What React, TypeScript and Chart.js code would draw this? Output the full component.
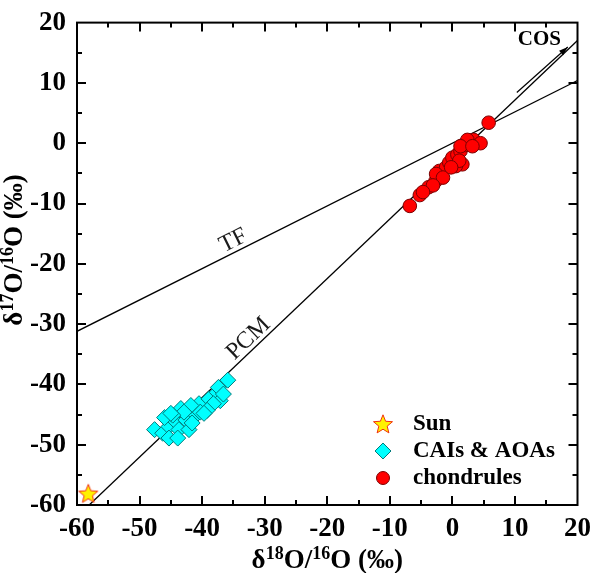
import React, { useEffect, useRef } from "react";
import { Chart, registerables } from "chart.js";
Chart.register(...registerables);

// ---- data ----
const xRange = [-60, 20];
const yRange = [-60, 20];
const majorStep = 10;
const minorStep = 5;

const sunX = [-58.2];
const sunY = [-58.1];

const caiX = [-35.9, -47.6, -46.3, -45.3, -43.4, -44.2, -42.6, -43.7, -42.1, -41.0, -40.5, -38.9, -37.6, -37.1, -38.2, -39.2, -40.3, -41.8, -42.9, -44.7, -37.4, -36.6, -45.3, -41.6, -39.7, -43.9, -46.0, -45.0];
const caiY = [-39.3, -47.5, -48.1, -47.0, -44.0, -46.2, -45.9, -47.5, -47.5, -45.1, -43.2, -42.4, -41.3, -42.7, -43.2, -44.3, -44.6, -43.5, -44.6, -45.1, -40.5, -41.6, -48.9, -46.4, -44.8, -48.9, -45.5, -44.8];

const chondX = [5.8, -6.8, -5.2, -3.8, -2.7, -2.1, -1.0, -0.5, 0.0, 0.8, 1.3, 2.1, 2.9, 3.4, 4.5, 1.6, 0.55, -2.6, -1.5, -3.1, -4.7, 2.4, 1.1, -0.2, 1.3, 3.2];
const chondY = [3.4, -10.4, -8.6, -7.3, -6.3, -4.6, -4.0, -3.2, -2.4, -1.9, -1.3, -0.3, 0.3, 0.55, 0.0, -3.5, -3.8, -5.1, -5.7, -7.0, -8.1, 0.55, -2.9, -4.0, -0.5, -0.5];

const tfLineX = [-60, 20];
const tfLineY = [-31.2, 10.4];
const pcmLineX = [-58.05, 20];
const pcmLineY = [-60, 17.04];
const cosArrowX = [10.3, 18.45];
const cosArrowY = [8.4, 15.95];

const legendLabels = ["Sun", "CAIs & AOAs", "chondrules"];
const lineLabels = ["TF", "PCM", "COS"];
const lineLabelX = [-35.0, -32.6, 13.9];
const lineLabelY = [-16.2, -32.4, 17.2];

const FONT = '"Liberation Serif", "Times New Roman", serif';

function pts(xs: number[], ys: number[]) {
  return xs.map((x, i) => ({ x, y: ys[i] }));
}

function starPath(ctx: CanvasRenderingContext2D, cx: number, cy: number, R: number, r: number) {
  ctx.beginPath();
  for (let i = 0; i < 10; i++) {
    const rad = i % 2 === 0 ? R : r;
    const a = -Math.PI / 2 + (i * Math.PI) / 5;
    const x = cx + rad * Math.cos(a);
    const y = cy + rad * Math.sin(a);
    if (i === 0) ctx.moveTo(x, y);
    else ctx.lineTo(x, y);
  }
  ctx.closePath();
}

function makeStar(): HTMLCanvasElement {
  const c = document.createElement("canvas");
  c.width = 22;
  c.height = 22;
  const g = c.getContext("2d")!;
  starPath(g, 11, 11.8, 10, 4.4);
  g.fillStyle = "#FFF200";
  g.fill();
  g.strokeStyle = "#F03010";
  g.lineWidth = 1;
  g.stroke();
  return c;
}

function drawRich(
  ctx: CanvasRenderingContext2D,
  parts: { t: string; sup?: boolean }[],
  cx: number,
  cy: number,
  rot: number
) {
  const big = `bold 27px ${FONT}`;
  const small = `bold 18px ${FONT}`;
  let total = 0;
  const widths = parts.map((p) => {
    ctx.font = p.sup ? small : big;
    const w = ctx.measureText(p.t).width;
    total += w;
    return w;
  });
  ctx.save();
  ctx.translate(cx, cy);
  ctx.rotate(rot);
  ctx.textAlign = "left";
  ctx.textBaseline = "alphabetic";
  ctx.fillStyle = "#000";
  let x = -total / 2;
  parts.forEach((p, i) => {
    ctx.font = p.sup ? small : big;
    ctx.fillText(p.t, x, p.sup ? 0 : 9);
    x += widths[i];
  });
  ctx.restore();
}

const decorPlugin = {
  id: "decor",
  afterDraw(chart: any) {
    const { ctx, chartArea: a, scales } = chart;
    const xs = scales.x;
    const ys = scales.y;
    ctx.save();
    ctx.strokeStyle = "#000";
    ctx.lineWidth = 2;
    ctx.strokeRect(a.left, a.top, a.right - a.left, a.bottom - a.top);
    ctx.beginPath();
    for (let v = xRange[0] + minorStep; v < xRange[1]; v += minorStep) {
      const px = Math.round(xs.getPixelForValue(v));
      const len = v % majorStep === 0 ? 9 : 5;
      ctx.moveTo(px, a.bottom);
      ctx.lineTo(px, a.bottom - len);
      ctx.moveTo(px, a.top);
      ctx.lineTo(px, a.top + len);
    }
    for (let v = yRange[0] + minorStep; v < yRange[1]; v += minorStep) {
      const py = Math.round(ys.getPixelForValue(v));
      const len = v % majorStep === 0 ? 9 : 5;
      ctx.moveTo(a.left, py);
      ctx.lineTo(a.left + len, py);
      ctx.moveTo(a.right, py);
      ctx.lineTo(a.right - len, py);
    }
    ctx.stroke();

    // COS arrow head
    const x1 = xs.getPixelForValue(cosArrowX[0]);
    const y1 = ys.getPixelForValue(cosArrowY[0]);
    const x2 = xs.getPixelForValue(cosArrowX[1]);
    const y2 = ys.getPixelForValue(cosArrowY[1]);
    const ang = Math.atan2(y2 - y1, x2 - x1);
    ctx.fillStyle = "#000";
    ctx.beginPath();
    ctx.moveTo(x2, y2);
    ctx.lineTo(x2 - 9 * Math.cos(ang) + 3 * Math.sin(ang), y2 - 9 * Math.sin(ang) - 3 * Math.cos(ang));
    ctx.lineTo(x2 - 9 * Math.cos(ang) - 3 * Math.sin(ang), y2 - 9 * Math.sin(ang) + 3 * Math.cos(ang));
    ctx.closePath();
    ctx.fill();

    // line labels
    const tfAng = Math.atan2(
      ys.getPixelForValue(tfLineY[1]) - ys.getPixelForValue(tfLineY[0]),
      xs.getPixelForValue(tfLineX[1]) - xs.getPixelForValue(tfLineX[0])
    );
    const pcmAng = Math.atan2(
      ys.getPixelForValue(pcmLineY[1]) - ys.getPixelForValue(pcmLineY[0]),
      xs.getPixelForValue(pcmLineX[1]) - xs.getPixelForValue(pcmLineX[0])
    );
    const angs = [tfAng, pcmAng, 0];
    lineLabels.forEach((t, i) => {
      ctx.save();
      ctx.translate(xs.getPixelForValue(lineLabelX[i]), ys.getPixelForValue(lineLabelY[i]));
      ctx.rotate(angs[i]);
      ctx.font = i === 2 ? `bold 21px ${FONT}` : `24px ${FONT}`;
      ctx.fillStyle = i === 2 ? "#000" : "#1a1a1a";
      ctx.textAlign = "center";
      ctx.textBaseline = "middle";
      ctx.fillText(t, 0, 0);
      ctx.restore();
    });

    // legend
    const rowsY = [424, 451, 478];
    const symX = 383;
    const textX = 413;
    rowsY.forEach((ry, i) => {
      if (i === 0) {
        starPath(ctx, symX, ry + 0.8, 10, 4.4);
        ctx.fillStyle = "#FFF200";
        ctx.fill();
        ctx.strokeStyle = "#F03010";
        ctx.lineWidth = 1;
        ctx.stroke();
      } else if (i === 1) {
        ctx.beginPath();
        ctx.moveTo(symX, ry - 8);
        ctx.lineTo(symX + 8, ry);
        ctx.lineTo(symX, ry + 8);
        ctx.lineTo(symX - 8, ry);
        ctx.closePath();
        ctx.fillStyle = "#00FFFF";
        ctx.fill();
        ctx.strokeStyle = "#007a7a";
        ctx.lineWidth = 1;
        ctx.stroke();
      } else {
        ctx.beginPath();
        ctx.arc(symX, ry, 6.5, 0, Math.PI * 2);
        ctx.fillStyle = "#FF0000";
        ctx.fill();
        ctx.strokeStyle = "#7a0000";
        ctx.lineWidth = 1;
        ctx.stroke();
      }
      ctx.font = `bold 23px ${FONT}`;
      ctx.fillStyle = "#000";
      ctx.textAlign = "left";
      ctx.textBaseline = "middle";
      ctx.fillText(legendLabels[i], textX, ry);
    });

    // axis titles
    drawRich(
      ctx,
      [{ t: "δ" }, { t: "18", sup: true }, { t: "O/" }, { t: "16", sup: true }, { t: "O (‰)" }],
      (a.left + a.right) / 2,
      559,
      0
    );
    drawRich(
      ctx,
      [{ t: "δ" }, { t: "17", sup: true }, { t: "O/" }, { t: "16", sup: true }, { t: "O (‰)" }],
      12.5,
      250,
      -Math.PI / 2
    );
    ctx.restore();
  },
};

export default function App() {
  const ref = useRef<HTMLCanvasElement | null>(null);
  useEffect(() => {
    document.body.style.margin = "0";
    if (!ref.current) return;
    const star = makeStar();
    const chart = new Chart(ref.current, {
      type: "scatter",
      data: {
        datasets: [
          {
            label: legendLabels[0],
            data: pts(sunX, sunY),
            pointStyle: star as any,
            pointRadius: 10,
          },
          {
            label: legendLabels[1],
            data: pts(caiX, caiY),
            pointStyle: "rectRot",
            pointRadius: 8,
            backgroundColor: "#00FFFF",
            borderColor: "#007a7a",
            borderWidth: 1,
          },
          {
            label: legendLabels[2],
            data: pts(chondX, chondY),
            pointStyle: "circle",
            pointRadius: 6.8,
            backgroundColor: "#FF0000",
            borderColor: "#7a0000",
            borderWidth: 1,
          },
          {
            label: lineLabels[0],
            data: pts(tfLineX, tfLineY),
            showLine: true,
            pointRadius: 0,
            borderColor: "#000",
            borderWidth: 1.3,
          },
          {
            label: lineLabels[1],
            data: pts(pcmLineX, pcmLineY),
            showLine: true,
            pointRadius: 0,
            borderColor: "#000",
            borderWidth: 1.3,
          },
          {
            label: lineLabels[2],
            data: pts(cosArrowX, cosArrowY),
            showLine: true,
            pointRadius: 0,
            borderColor: "#000",
            borderWidth: 1.2,
          },
        ],
      },
      options: {
        animation: false,
        responsive: false,
        devicePixelRatio: 1,
        layout: { padding: { top: 12, right: 17, left: 0, bottom: 0 } },
        plugins: { legend: { display: false }, tooltip: { enabled: false } },
        scales: {
          x: {
            type: "linear",
            min: xRange[0],
            max: xRange[1],
            grid: { display: false, drawTicks: false },
            border: { display: false },
            ticks: {
              stepSize: majorStep,
              color: "#000",
              padding: 9,
              maxRotation: 0,
              autoSkip: false,
              font: { family: FONT, size: 27, weight: "bold", lineHeight: 1.15 },
            },
            afterFit: (s: any) => {
              s.height = 68;
            },
          },
          y: {
            type: "linear",
            min: yRange[0],
            max: yRange[1],
            grid: { display: false, drawTicks: false },
            border: { display: false },
            ticks: {
              stepSize: majorStep,
              color: "#000",
              padding: 11,
              autoSkip: false,
              font: { family: FONT, size: 27, weight: "bold", lineHeight: 0.86 },
            },
            afterFit: (s: any) => {
              s.width = 77;
            },
          },
        },
      },
      plugins: [decorPlugin],
    } as any);
    return () => chart.destroy();
  }, []);
  return <canvas ref={ref} width={600} height={573} style={{ display: "block" }} />;
}
